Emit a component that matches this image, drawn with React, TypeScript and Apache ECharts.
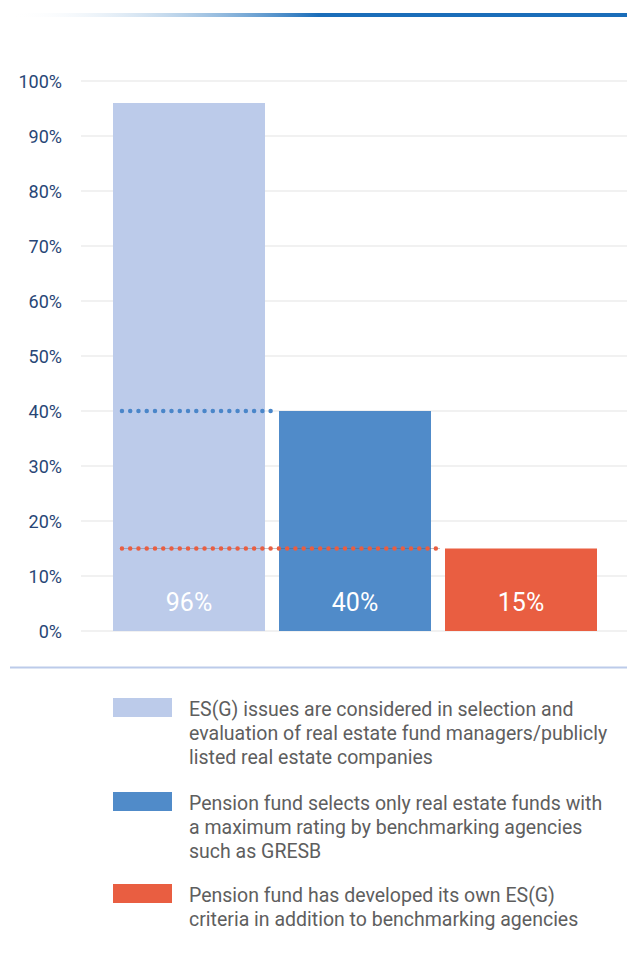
import React, { useEffect, useRef } from "react";
import * as echarts from "echarts";

const categories = [
  "ES(G) issues are considered in selection and evaluation of real estate fund managers/publicly listed real estate companies",
  "Pension fund selects only real estate funds with a maximum rating by benchmarking agencies such as GRESB",
  "Pension fund has developed its own ES(G) criteria in addition to benchmarking agencies",
];
const legendLines = [
  ["ES(G) issues are considered in selection and", "evaluation of real estate fund managers/publicly", "listed real estate companies"],
  ["Pension fund selects only real estate funds with", "a maximum rating by benchmarking agencies", "such as GRESB"],
  ["Pension fund has developed its own ES(G)", "criteria in addition to benchmarking agencies"],
];
const values = [96, 40, 15];
const barColors = ["#bccbea", "#508bc9", "#e95e41"];
const dotColors = ["#4a86c9", "#e95e41"];
const yTicks = { min: 0, max: 100, interval: 10 };

const FONT = "Roboto, 'Noto Sans', sans-serif";

export default function App() {
  const ref = useRef<HTMLDivElement>(null);
  useEffect(() => {
    if (!ref.current) return;
    const chart = echarts.init(ref.current, null, { renderer: "svg" });

    const refSeries: any[] = [];
    [1, 2].forEach((idx, k) => {
      const v = values[idx];
      const data = [
        [-0.5 + 0.096, v],
        [idx - 0.5 + 0.012, v],
      ];
      if (idx === 2) {
        refSeries.push({
          type: "line",
          xAxisIndex: 2,
          yAxisIndex: 1,
          data,
          symbol: "none",
          silent: true,
          z: 3,
          lineStyle: { color: "rgba(80,80,100,0.35)", width: 1 },
        });
      }
      refSeries.push({
        type: "line",
        xAxisIndex: 2,
        yAxisIndex: 1,
        data,
        symbol: "none",
        silent: true,
        z: 4,
        lineStyle: {
          color: dotColors[k],
          width: 4.5,
          type: [0.01, 8.25],
          cap: "round",
        },
      });
    });

    const legendGraphics: any[] = [];
    const legendTops = [698, 792, 884];
    legendLines.forEach((lines, i) => {
      legendGraphics.push({
        type: "rect",
        left: 113,
        top: legendTops[i],
        shape: { width: 59, height: 19 },
        style: { fill: barColors[i] },
      });
      legendGraphics.push({
        type: "text",
        left: 189,
        top: legendTops[i],
        style: {
          text: lines.join("\n"),
          fill: "#5e5e5e",
          font: `19.5px ${FONT}`,
          lineHeight: 23.7,
        },
      });
    });

    chart.setOption({
      animation: false,
      grid: [
        { left: 81, right: 0, top: 81, height: 550 },
        { left: 106, right: 23, top: 81, height: 550 },
      ],
      xAxis: [
        { type: "category", gridIndex: 0, data: categories, show: false },
        {
          type: "category",
          gridIndex: 1,
          data: categories,
          axisLine: { show: false },
          axisTick: { show: false },
          axisLabel: { show: false },
        },
        { type: "value", gridIndex: 1, min: -0.5, max: 2.5, show: false },
      ],
      yAxis: [
        {
          type: "value",
          gridIndex: 0,
          min: yTicks.min,
          max: yTicks.max,
          interval: yTicks.interval,
          axisLine: { show: false },
          axisTick: { show: false },
          splitLine: { lineStyle: { color: "#f1f1f1", width: 2 } },
          axisLabel: {
            formatter: "{value}%",
            color: "#284676",
            fontFamily: FONT,
            fontSize: 18,
            margin: 19,
          },
        },
        {
          type: "value",
          gridIndex: 1,
          min: yTicks.min,
          max: yTicks.max,
          interval: yTicks.interval,
          show: false,
        },
      ],
      series: [
        {
          type: "bar",
          xAxisIndex: 1,
          yAxisIndex: 1,
          barWidth: 152,
          z: 2,
          data: values.map((v, i) => ({ value: v, itemStyle: { color: barColors[i] } })),
          label: {
            show: true,
            position: "insideBottom",
            distance: 16,
            formatter: "{c}%",
            color: "#ffffff",
            fontFamily: FONT,
            fontSize: 25,
          },
        },
        ...refSeries,
      ],
      graphic: [
        {
          type: "rect",
          left: 10,
          top: 13,
          shape: { width: 617, height: 4 },
          style: {
            fill: new echarts.graphic.LinearGradient(0, 0, 1, 0, [
              { offset: 0, color: "rgba(255,255,255,0)" },
              { offset: 0.5, color: "#1a6db9" },
              { offset: 1, color: "#1a6db9" },
            ]),
          },
        },
        {
          type: "rect",
          left: 10,
          top: 666.5,
          shape: { width: 617, height: 2 },
          style: { fill: "#bccbea" },
        },
        ...legendGraphics,
      ],
    });
    return () => chart.dispose();
  }, []);
  return (
    <div
      ref={ref}
      style={{ position: "fixed", left: 0, top: 0, width: 627, height: 974, background: "#fff" }}
    />
  );
}
